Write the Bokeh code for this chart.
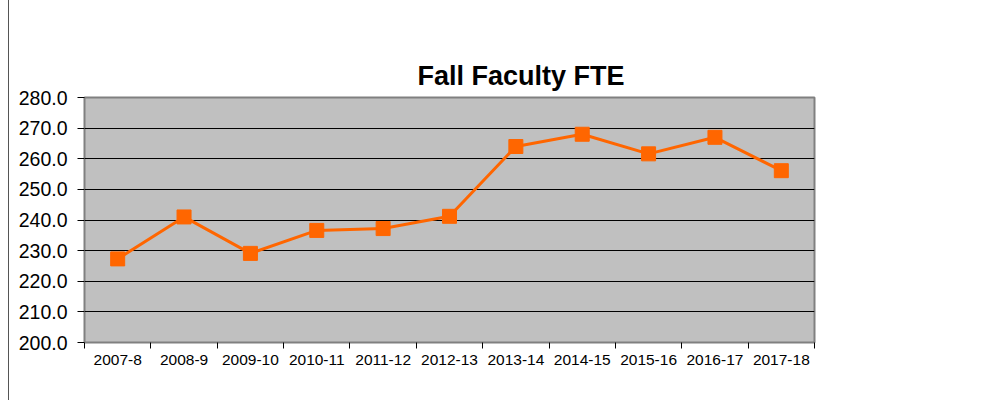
from bokeh.plotting import figure
from bokeh.models import FixedTicker, PrintfTickFormatter, ColumnDataSource, Title
from bokeh.embed import file_html
from bokeh.resources import INLINE

title_text = "Fall Faculty FTE"
categories = ["2007-8", "2008-9", "2009-10", "2010-11", "2011-12", "2012-13",
              "2013-14", "2014-15", "2015-16", "2016-17", "2017-18"]
fte = [227.3, 241.0, 229.1, 236.6, 237.2, 241.2, 264.0, 268.0, 261.6, 267.0, 256.1]
y_ticks = [200, 210, 220, 230, 240, 250, 260, 270, 280]

FONT = "Liberation Sans"

xpos = [i + 0.5 for i in range(len(categories))]
src = ColumnDataSource(dict(x=xpos, y=fte, cat=categories))

p = figure(width=968, height=400, output_backend="svg", toolbar_location=None,
           x_range=(0, len(categories)), y_range=(200, 280),
           min_border_left=75, min_border_right=163, min_border_bottom=58,
           min_border_top=97)
p.styles = {"margin-left": "8px", "border-left": "1px solid #555555"}

# main title first, then an invisible spacer between it and the plot area
p.add_layout(Title(text=title_text, text_font=FONT, text_font_size="27px",
                   text_font_style="bold", text_color="black", align="left",
                   offset=333, vertical_align="top", standoff=10), "above")
p.add_layout(Title(text=".", text_font=FONT, text_font_size="27px",
                   text_alpha=0, standoff=11), "above")

p.background_fill_color = "#C0C0C0"
p.border_fill_color = "white"
p.outline_line_color = "#808080"
p.outline_line_width = 2

p.line("x", "y", source=src, line_color="#FF6600", line_width=3)
p.scatter("x", "y", source=src, marker="square", size=14,
          fill_color="#FF6600", line_color="#FF6600")

# x axis: labels at centers, ticks at category boundaries
p.xaxis.ticker = FixedTicker(ticks=xpos, minor_ticks=list(range(len(categories) + 1)))
p.xaxis.major_label_overrides = {x: c for x, c in zip(xpos, categories)}
p.xaxis.major_tick_out = 0
p.xaxis.major_tick_in = 0
p.xaxis.minor_tick_out = 6
p.xaxis.minor_tick_in = 0
p.xaxis.minor_tick_line_color = "black"
p.xaxis.axis_line_color = "#808080"
p.xaxis.axis_line_width = 1
p.xaxis.major_label_text_font = FONT
p.xaxis.major_label_text_font_size = "15.5px"
p.xaxis.major_label_text_color = "black"
p.xaxis.major_label_standoff = 6

p.yaxis.ticker = FixedTicker(ticks=y_ticks)
p.yaxis.formatter = PrintfTickFormatter(format="%.1f")
p.yaxis.major_tick_out = 7
p.yaxis.major_tick_in = 0
p.yaxis.minor_tick_line_color = None
p.yaxis.major_tick_line_color = "black"
p.yaxis.axis_line_color = "#808080"
p.yaxis.major_label_text_font = FONT
p.yaxis.major_label_text_font_size = "19.5px"
p.yaxis.major_label_text_color = "black"
p.yaxis.major_label_standoff = 10

p.xgrid.grid_line_color = None
p.ygrid.ticker = FixedTicker(ticks=y_ticks)
p.ygrid.grid_line_color = "black"
p.ygrid.grid_line_width = 1

open("out.html", "w").write(file_html(p, INLINE))
